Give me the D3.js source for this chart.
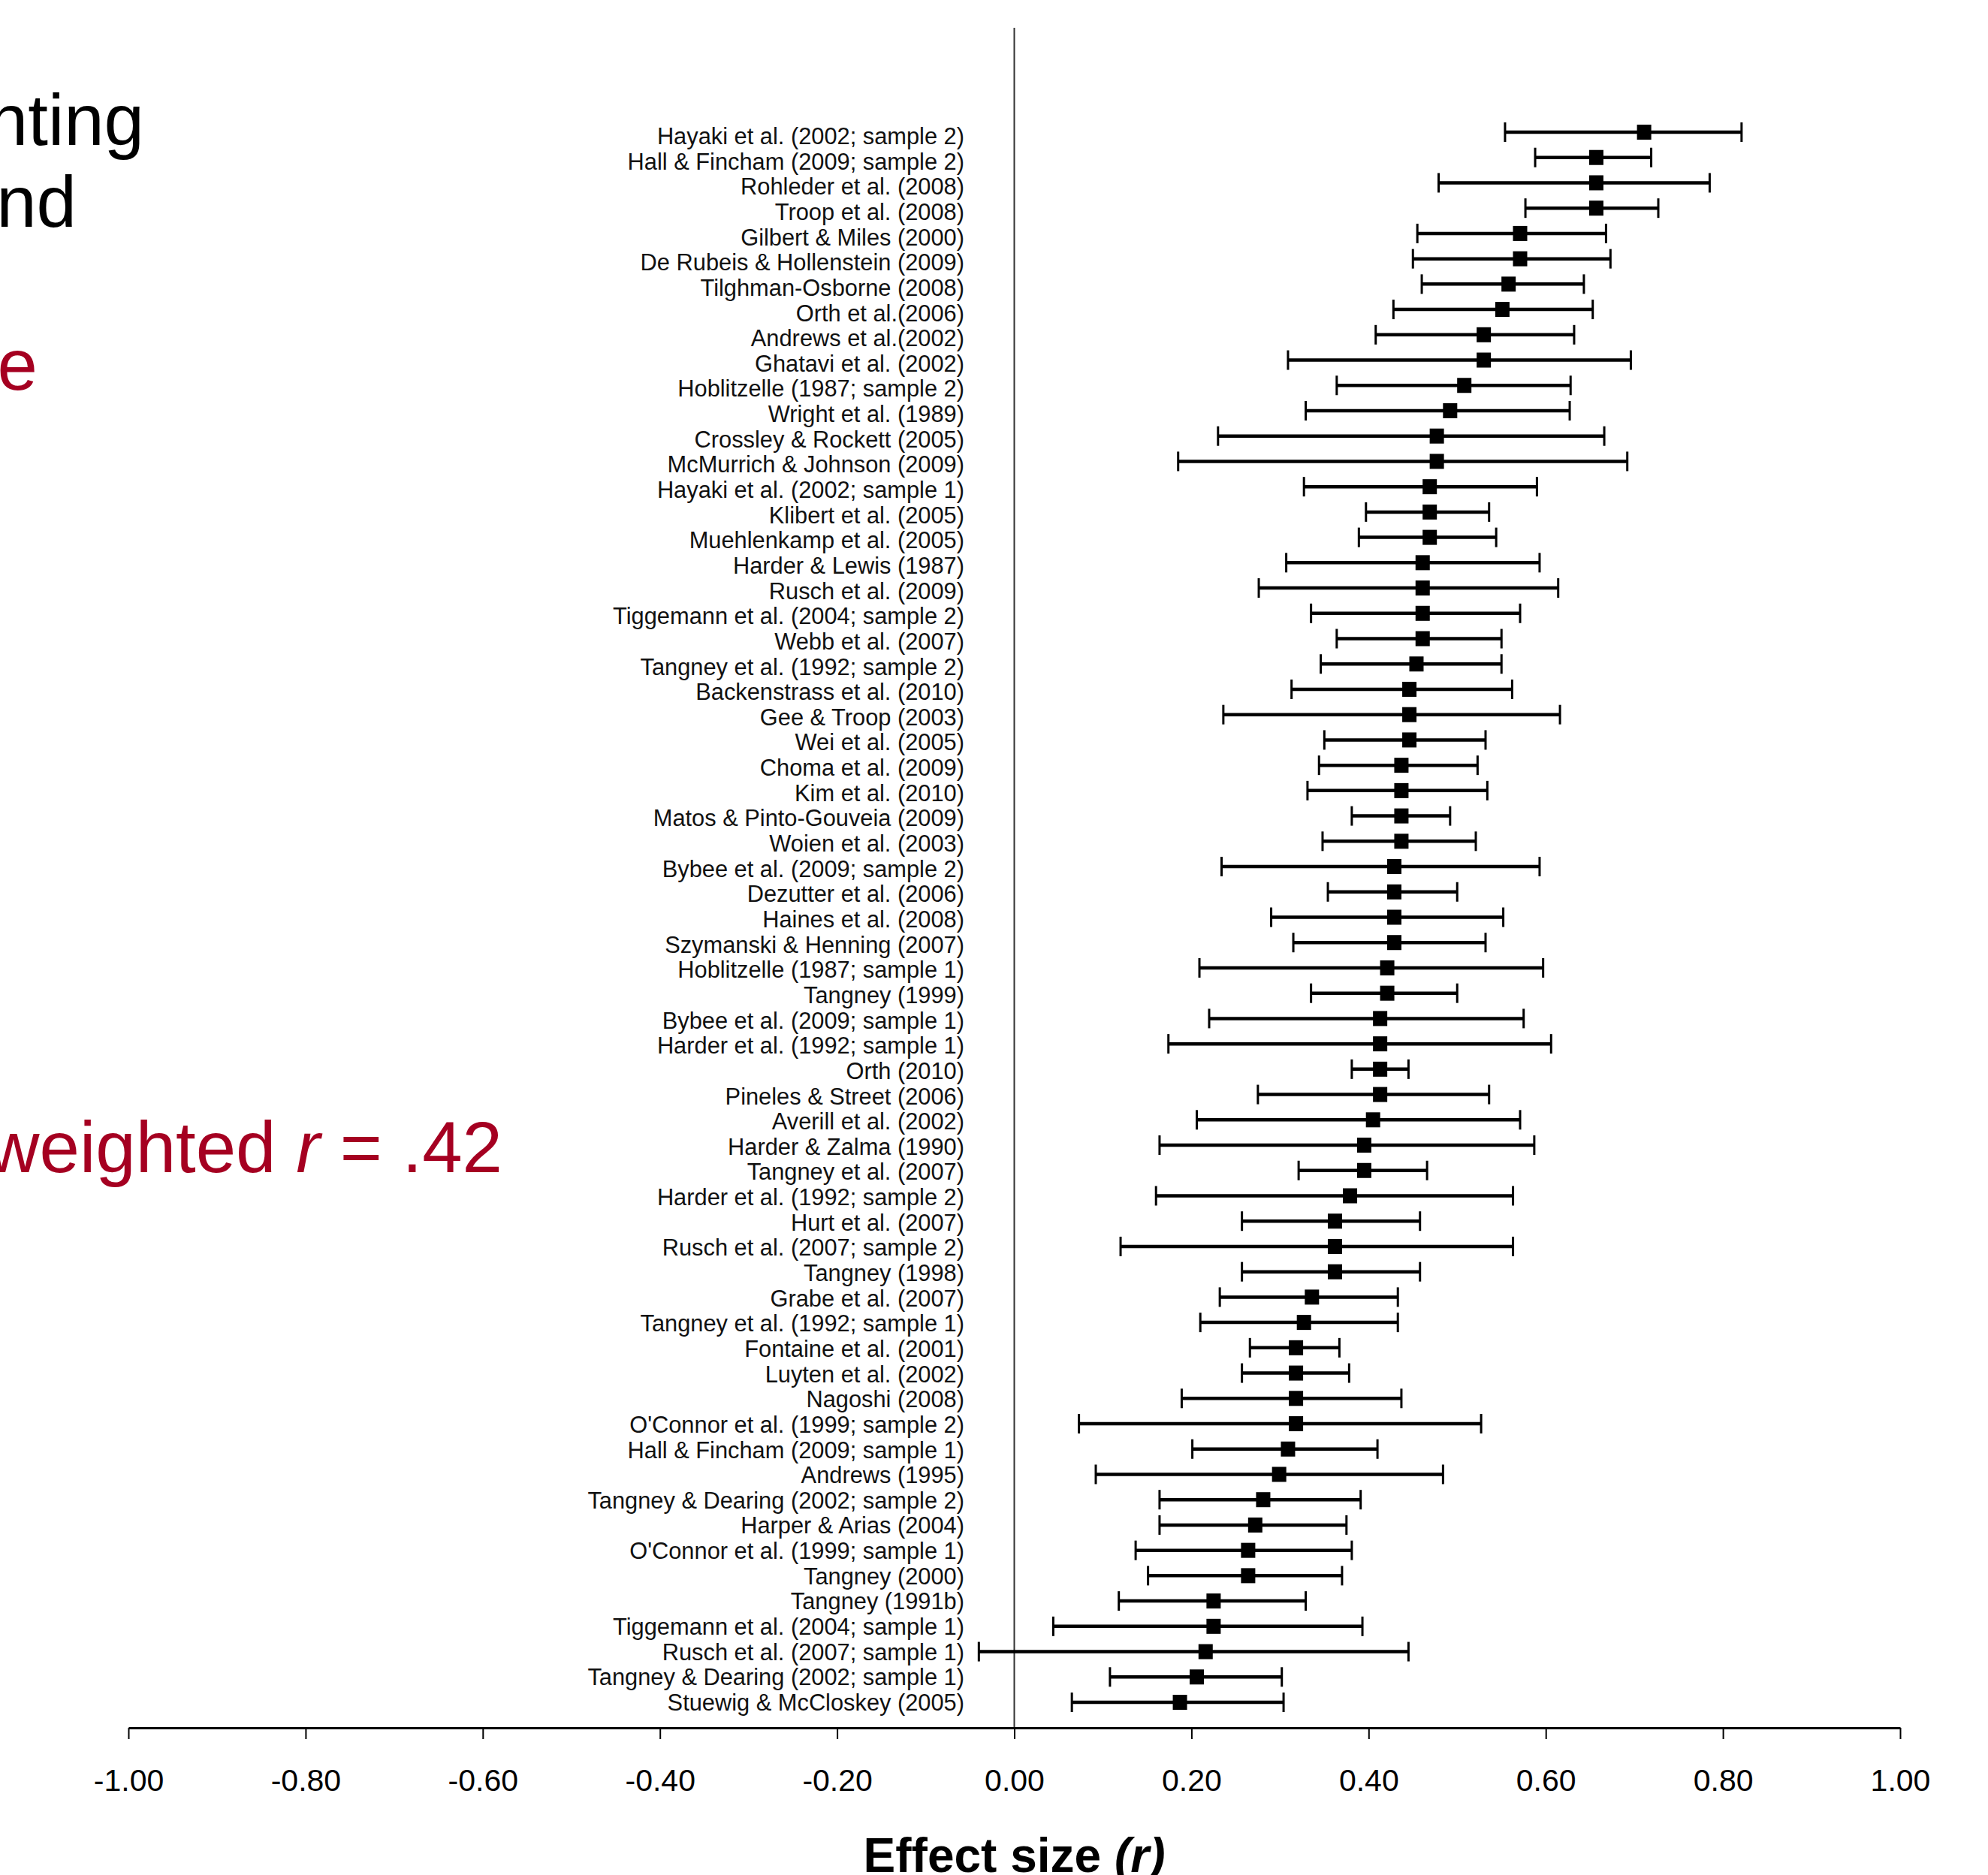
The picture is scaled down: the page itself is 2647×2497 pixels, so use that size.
<!DOCTYPE html>
<html>
<head>
<meta charset="utf-8">
<script src="https://cdn.jsdelivr.net/npm/d3@7"></script>
<style>
  body { margin: 0; background: #fff; }
  svg { display: block; font-family: "Liberation Sans", Arial, sans-serif; }
</style>
</head>
<body>
<svg id="forest" width="2647" height="2497"></svg>
<script>
const width = 2647;
const height = 2497;

const studies = [
    "Hayaki et al. (2002; sample 2)",
    "Hall & Fincham (2009; sample 2)",
    "Rohleder et al. (2008)",
    "Troop et al. (2008)",
    "Gilbert & Miles (2000)",
    "De Rubeis & Hollenstein (2009)",
    "Tilghman-Osborne (2008)",
    "Orth et al.(2006)",
    "Andrews et al.(2002)",
    "Ghatavi et al. (2002)",
    "Hoblitzelle (1987; sample 2)",
    "Wright et al. (1989)",
    "Crossley & Rockett (2005)",
    "McMurrich & Johnson (2009)",
    "Hayaki et al. (2002; sample 1)",
    "Klibert et al. (2005)",
    "Muehlenkamp et al. (2005)",
    "Harder & Lewis (1987)",
    "Rusch et al. (2009)",
    "Tiggemann et al. (2004; sample 2)",
    "Webb et al. (2007)",
    "Tangney et al. (1992; sample 2)",
    "Backenstrass et al. (2010)",
    "Gee & Troop (2003)",
    "Wei et al. (2005)",
    "Choma et al. (2009)",
    "Kim et al. (2010)",
    "Matos & Pinto-Gouveia (2009)",
    "Woien et al. (2003)",
    "Bybee et al. (2009; sample 2)",
    "Dezutter et al. (2006)",
    "Haines et al. (2008)",
    "Szymanski & Henning (2007)",
    "Hoblitzelle (1987; sample 1)",
    "Tangney (1999)",
    "Bybee et al. (2009; sample 1)",
    "Harder et al. (1992; sample 1)",
    "Orth (2010)",
    "Pineles & Street (2006)",
    "Averill et al. (2002)",
    "Harder & Zalma (1990)",
    "Tangney et al. (2007)",
    "Harder et al. (1992; sample 2)",
    "Hurt et al. (2007)",
    "Rusch et al. (2007; sample 2)",
    "Tangney (1998)",
    "Grabe et al. (2007)",
    "Tangney et al. (1992; sample 1)",
    "Fontaine et al. (2001)",
    "Luyten et al. (2002)",
    "Nagoshi (2008)",
    "O'Connor et al. (1999; sample 2)",
    "Hall & Fincham (2009; sample 1)",
    "Andrews (1995)",
    "Tangney & Dearing (2002; sample 2)",
    "Harper & Arias (2004)",
    "O'Connor et al. (1999; sample 1)",
    "Tangney (2000)",
    "Tangney (1991b)",
    "Tiggemann et al. (2004; sample 1)",
    "Rusch et al. (2007; sample 1)",
    "Tangney & Dearing (2002; sample 1)",
    "Stuewig & McCloskey (2005)"
];

// effect size r for each study
const effect = [
    0.711, 0.657, 0.657, 0.657, 0.571, 0.571, 0.558, 0.551, 0.530, 0.530,
    0.508, 0.492, 0.477, 0.477, 0.469, 0.469, 0.469, 0.461, 0.461, 0.461,
    0.461, 0.454, 0.446, 0.446, 0.446, 0.437, 0.437, 0.437, 0.437, 0.429,
    0.429, 0.429, 0.429, 0.421, 0.421, 0.413, 0.413, 0.413, 0.413, 0.405,
    0.395, 0.395, 0.379, 0.362, 0.362, 0.362, 0.336, 0.327, 0.318, 0.318,
    0.318, 0.318, 0.309, 0.299, 0.281, 0.272, 0.264, 0.264, 0.225, 0.225,
    0.216, 0.206, 0.187
];

// lower confidence limit
const lower = [
    0.554, 0.588, 0.479, 0.577, 0.455, 0.450, 0.460, 0.428, 0.408, 0.309,
    0.364, 0.329, 0.230, 0.185, 0.327, 0.397, 0.389, 0.307, 0.276, 0.335,
    0.364, 0.346, 0.313, 0.236, 0.350, 0.344, 0.331, 0.381, 0.348, 0.234,
    0.354, 0.290, 0.315, 0.209, 0.335, 0.220, 0.174, 0.381, 0.275, 0.206,
    0.164, 0.321, 0.160, 0.257, 0.120, 0.257, 0.232, 0.210, 0.266, 0.257,
    0.189, 0.073, 0.201, 0.092, 0.164, 0.164, 0.137, 0.151, 0.118, 0.044,
    -0.040, 0.108, 0.065
];

// upper confidence limit
const upper = [
    0.821, 0.719, 0.785, 0.727, 0.668, 0.673, 0.643, 0.653, 0.632, 0.696,
    0.628, 0.627, 0.666, 0.692, 0.590, 0.536, 0.544, 0.593, 0.614, 0.571,
    0.550, 0.550, 0.562, 0.616, 0.532, 0.523, 0.534, 0.492, 0.521, 0.593,
    0.500, 0.552, 0.532, 0.597, 0.500, 0.575, 0.606, 0.445, 0.536, 0.571,
    0.587, 0.466, 0.563, 0.458, 0.563, 0.458, 0.433, 0.433, 0.367, 0.378,
    0.437, 0.527, 0.410, 0.484, 0.391, 0.375, 0.381, 0.370, 0.329, 0.393,
    0.445, 0.302, 0.304
];

const xTicks = [-1.0, -0.8, -0.6, -0.4, -0.2, 0.0, 0.2, 0.4, 0.6, 0.8, 1.0];

// fragments of the slide text that sit at the left edge
const slideLines = ["nting", "nd"];
const slideRed = "e";
const pooledR = ".42";

const red = "#a50021";

const svg = d3.select("#forest");

const x = d3.scaleLinear().domain([-1, 1]).range([171, 2530]);
const y = d3.scalePoint().domain(studies).range([176, 2267]);
// the label column was set with a slightly tighter line pitch than the marks
const yLabel = d3.scalePoint().domain(studies).range([192, 2278]);
const axisY = 2301;

const rows = studies.map(function (s, i) {
    return { name: s, r: effect[i], lo: lower[i], hi: upper[i] };
});

// zero reference line
svg.append("line")
    .attr("x1", x(0)).attr("x2", x(0))
    .attr("y1", 37).attr("y2", axisY)
    .attr("stroke", "#333")
    .attr("stroke-width", 2);

// x axis
const axis = d3.axisBottom(x)
    .tickValues(xTicks)
    .tickFormat(function (d) { return d.toFixed(2); })
    .tickSize(15)
    .tickSizeOuter(0)
    .tickPadding(40);

const gAxis = svg.append("g")
    .attr("transform", `translate(0,${axisY})`)
    .call(axis);

gAxis.select(".domain").attr("stroke", "#000").attr("stroke-width", 3);
gAxis.selectAll(".tick line").attr("stroke", "#000").attr("stroke-width", 2);
gAxis.selectAll(".tick text")
    .attr("font-family", "'Liberation Sans', Arial, sans-serif")
    .attr("font-size", 41)
    .attr("fill", "#000");

// axis title
const title = svg.append("text")
    .attr("x", x(0))
    .attr("y", 2493)
    .attr("text-anchor", "middle")
    .attr("font-size", 64)
    .attr("font-weight", "bold");
title.append("tspan").text("Effect size ");
title.append("tspan").attr("font-style", "italic").text("(r)");

// study labels
svg.append("g")
    .selectAll("text")
    .data(rows)
    .join("text")
    .attr("x", 1284)
    .attr("y", function (d) { return yLabel(d.name); })
    .attr("text-anchor", "end")
    .attr("font-size", 30.8)
    .attr("fill", "#111")
    .text(function (d) { return d.name; });

// confidence intervals
const ci = svg.append("g").selectAll("g")
    .data(rows)
    .join("g");

ci.append("line")
    .attr("x1", function (d) { return x(d.lo); })
    .attr("x2", function (d) { return x(d.hi); })
    .attr("y1", function (d) { return y(d.name); })
    .attr("y2", function (d) { return y(d.name); })
    .attr("stroke", "#000")
    .attr("stroke-width", 4.5);

ci.selectAll(".cap")
    .data(function (d) { return [{ v: d.lo, n: d.name }, { v: d.hi, n: d.name }]; })
    .join("line")
    .attr("class", "cap")
    .attr("x1", function (d) { return x(d.v); })
    .attr("x2", function (d) { return x(d.v); })
    .attr("y1", function (d) { return y(d.n) - 13; })
    .attr("y2", function (d) { return y(d.n) + 13; })
    .attr("stroke", "#000")
    .attr("stroke-width", 3);

ci.append("rect")
    .attr("x", function (d) { return x(d.r) - 9.5; })
    .attr("y", function (d) { return y(d.name) - 10; })
    .attr("width", 19)
    .attr("height", 20)
    .attr("fill", "#000");

// left slide text, cut off at the page edge
svg.append("g")
    .selectAll("text")
    .data(slideLines)
    .join("text")
    .attr("x", function (d, i) { return i == 0 ? 192 : 102; })
    .attr("y", function (d, i) { return 193 + i * 109; })
    .attr("text-anchor", "end")
    .attr("font-size", 96)
    .attr("fill", "#000")
    .text(function (d) { return d; });

svg.append("text")
    .attr("x", 50)
    .attr("y", 519)
    .attr("text-anchor", "end")
    .attr("font-size", 96)
    .attr("fill", red)
    .text(slideRed);

const pooled = svg.append("text")
    .attr("x", 669)
    .attr("y", 1561)
    .attr("text-anchor", "end")
    .attr("font-size", 96)
    .attr("fill", red);
pooled.append("tspan").text("weighted ");
pooled.append("tspan").attr("font-style", "italic").text("r");
pooled.append("tspan").text(" = " + pooledR);
</script>
</body>
</html>
